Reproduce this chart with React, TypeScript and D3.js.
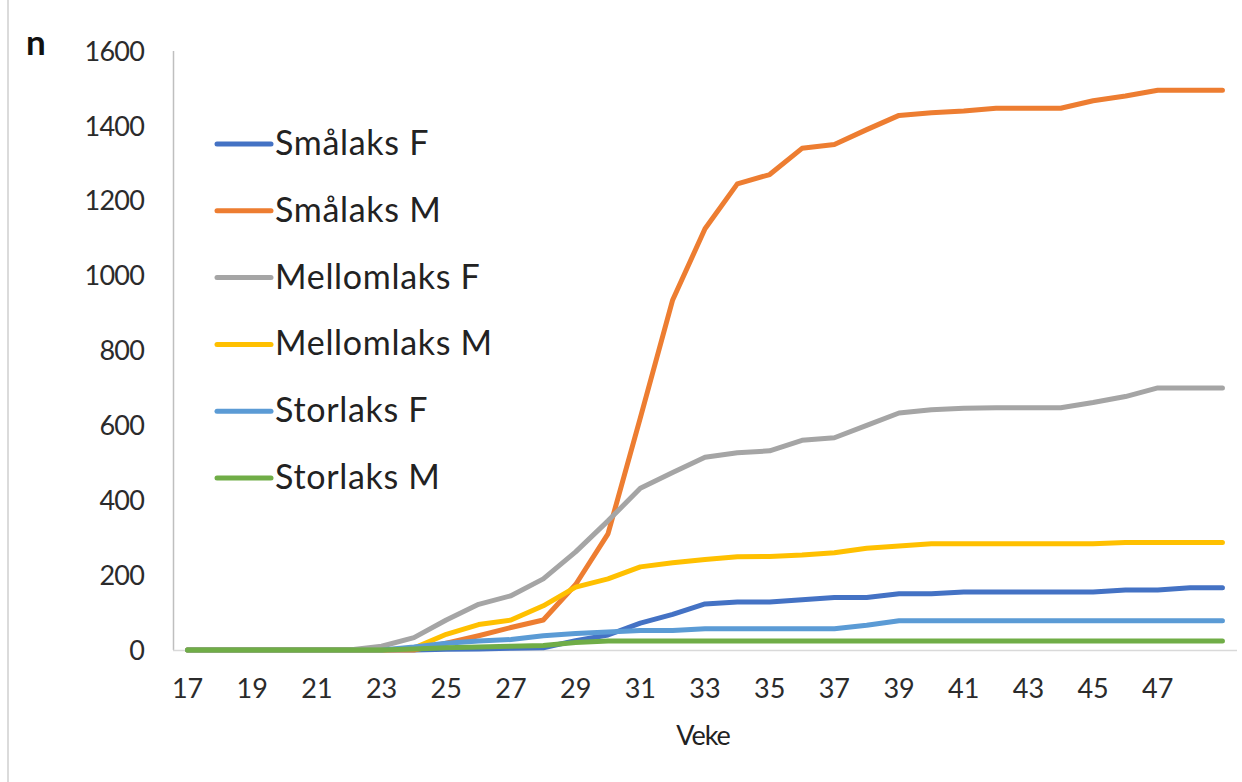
import * as d3 from 'd3';

const weeks = [17, 18, 19, 20, 21, 22, 23, 24, 25, 26, 27, 28, 29, 30, 31, 32, 33, 34, 35, 36, 37, 38, 39, 40, 41, 42, 43, 44, 45, 46, 47, 48, 49];
const weekLabels = [17, 19, 21, 23, 25, 27, 29, 31, 33, 35, 37, 39, 41, 43, 45, 47];
const yTicks = [0, 200, 400, 600, 800, 1000, 1200, 1400, 1600];

const smalaksF = [0, 0, 0, 0, 0, 0, 0, 0, 2, 3, 5, 6, 25, 40, 72, 95, 123, 128, 128, 134, 140, 140, 150, 150, 155, 155, 155, 155, 155, 160, 160, 166, 166];
const smalaksM = [0, 0, 0, 0, 0, 0, 0, 0, 18, 38, 60, 80, 175, 310, 620, 935, 1125, 1245, 1270, 1340, 1350, 1390, 1428, 1435, 1440, 1447, 1447, 1447, 1467, 1480, 1495, 1495, 1495];
const mellomlaksF = [0, 0, 0, 0, 0, 0, 10, 33, 80, 122, 145, 190, 262, 345, 432, 474, 515, 527, 532, 560, 567, 600, 633, 642, 646, 647, 647, 647, 661, 677, 700, 700, 700];
const mellomlaksM = [0, 0, 0, 0, 0, 0, 0, 5, 42, 68, 80, 118, 168, 190, 222, 233, 242, 249, 250, 254, 260, 272, 278, 284, 284, 284, 284, 284, 284, 287, 287, 287, 287];
const storlaksF = [0, 0, 0, 0, 0, 0, 0, 8, 18, 24, 28, 38, 44, 48, 52, 52, 57, 57, 57, 57, 57, 66, 78, 78, 78, 78, 78, 78, 78, 78, 78, 78, 78];
const storlaksM = [0, 0, 0, 0, 0, 0, 0, 3, 6, 8, 10, 12, 20, 24, 24, 24, 24, 24, 24, 24, 24, 24, 24, 24, 24, 24, 24, 24, 24, 24, 24, 24, 24];

const seriesNames = ['Smålaks F', 'Smålaks M', 'Mellomlaks F', 'Mellomlaks M', 'Storlaks F', 'Storlaks M'];
const seriesValues = [smalaksF, smalaksM, mellomlaksF, mellomlaksM, storlaksF, storlaksM];
const seriesColors = ['#4472C4', '#ED7D31', '#A5A5A5', '#FFC000', '#5B9BD5', '#70AD47'];

const W = 1242;
const H = 782;
const FONT = 'Lato, "Noto Sans", sans-serif';

export default function App() {
  const x = d3.scalePoint<number>().domain(weeks).range([173, 1237]).padding(0.45);
  const y = d3.scaleLinear().domain([0, 1600]).range([650, 51]);

  const line = d3
    .line<number>()
    .x((_, i) => x(weeks[i]) as number)
    .y((d) => y(d));

  const legendY = d3.scaleLinear().domain([0, 5]).range([144, 478]);

  return (
    <svg
      width={W}
      height={H}
      style={{ position: 'absolute', left: 0, top: 0, background: '#fff' }}
      fontFamily={FONT}
    >
      <line x1={8} x2={8} y1={0} y2={H} stroke="#cfcfcf" strokeWidth={1.5} />

      <text x={26} y={55} fontSize={35} fontWeight="bold" fill="#111">
        n
      </text>

      {/* axes */}
      <line x1={173.5} x2={173.5} y1={y(1600)} y2={y(0)} stroke="#bfbfbf" strokeWidth={1.5} />
      <line x1={173} x2={1237} y1={650.5} y2={650.5} stroke="#d9d9d9" strokeWidth={1.5} />

      {yTicks.map((t) => (
        <text
          key={t}
          x={144}
          y={y(t)}
          dy="0.36em"
          textAnchor="end"
          fontSize={27}
          letterSpacing={-0.8}
          fill="#2b2b2b"
        >
          {t}
        </text>
      ))}

      {weekLabels.map((w) => (
        <text
          key={w}
          x={x(w)}
          y={698}
          textAnchor="middle"
          fontSize={27}
          fill="#2b2b2b"
        >
          {w}
        </text>
      ))}

      <text x={703} y={745} textAnchor="middle" fontSize={27} letterSpacing={-1} fill="#222">
        Veke
      </text>

      {/* series */}
      {seriesValues.map((vals, i) => (
        <path
          key={seriesNames[i]}
          d={line(vals) ?? ''}
          fill="none"
          stroke={seriesColors[i]}
          strokeWidth={5}
          strokeLinejoin="round"
          strokeLinecap="round"
        />
      ))}

      {/* legend */}
      {seriesNames.map((name, i) => (
        <g key={name} transform={`translate(0,${legendY(i)})`}>
          <line x1={217} x2={271} y1={0} y2={0} stroke={seriesColors[i]} strokeWidth={5} strokeLinecap="round" />
          <text x={275} y={11} fontSize={34} letterSpacing={0.7} fill="#222">
            {name}
          </text>
        </g>
      ))}
    </svg>
  );
}
